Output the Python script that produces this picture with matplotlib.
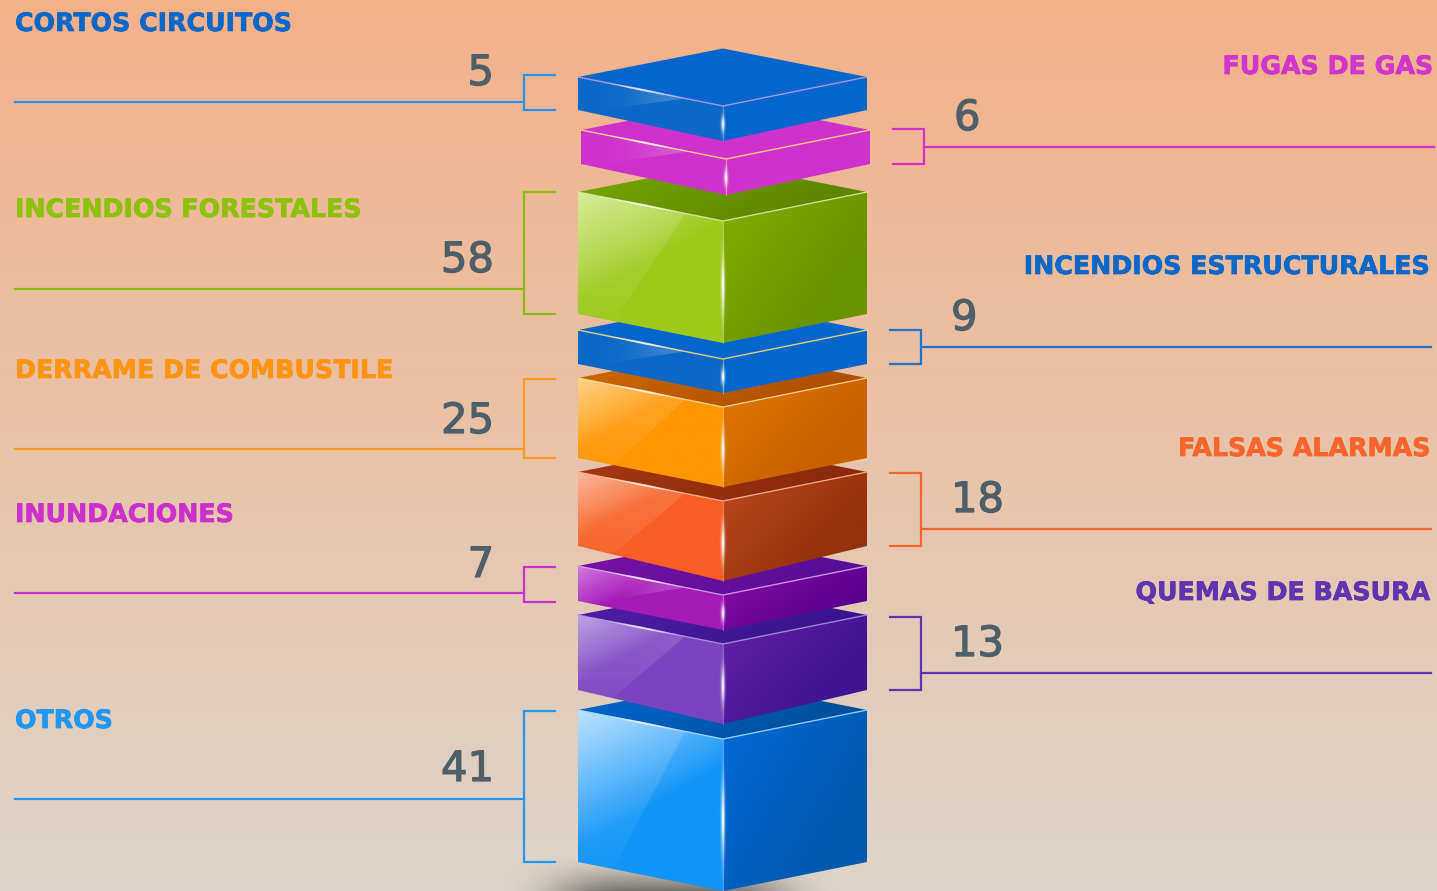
import matplotlib
matplotlib.use('Agg')
import matplotlib.pyplot as plt
import matplotlib.patheffects as pe
import numpy as np
from matplotlib.collections import LineCollection
from matplotlib.colors import to_rgb
from matplotlib.patches import Polygon

categories = ['CORTOS CIRCUITOS', 'FUGAS DE GAS', 'INCENDIOS FORESTALES', 'INCENDIOS ESTRUCTURALES',
              'DERRAME DE COMBUSTILE', 'FALSAS ALARMAS', 'INUNDACIONES', 'QUEMAS DE BASURA', 'OTROS']
values = [5, 6, 58, 9, 25, 18, 7, 13, 41]

# layout, in image pixels
block_top = [77, 130, 192, 330, 378, 472, 566, 615, 710]
block_bot = [110, 164, 314, 364, 458, 546, 601, 690, 862]
front_bot = [141, 195, 343, 393, 487, 581, 630, 724, 891]
block_x0 = [578, 581, 578, 578, 578, 578, 578, 578, 578]
sides = ['l', 'r', 'l', 'r', 'l', 'r', 'l', 'r', 'l']
leader_y = [102, 147, 289, 347, 449, 529, 593, 673, 799]
label_y = [24, 67, 210, 267, 371, 449, 515, 593, 721]
value_y = [73, 118, 260, 318, 421, 500, 565, 644, 769]
bracket_top = [75, 129, 192, 330, 379, 473, 567, 617, 711]
bracket_bot = [110, 164, 314, 364, 458, 546, 602, 690, 862]

# styles
label_colors = ['#0b68c8', '#d035cc', '#8cc10c', '#0b68c8', '#ff9412', '#f9632c', '#cc30cc', '#5e35ae', '#2196f3']
line_colors = ['#2196f3', '#cf32cc', '#8bbd0f', '#1c74d4', '#ff9a1e', '#f9632c', '#cc30cc', '#5e35ae', '#2196f3']
left_colors = ['#0a68c8', '#cf32cc', '#9dc91b', '#0a68c8', '#ff9500', '#f75e24', '#a61bb7', '#7a44c0', '#1295f7']
left_light = ['#0a68c8', '#cf32cc', '#d2e88a', '#0a68c8', '#ffcc70', '#fcaa88', '#d07ae0', '#b090e0', '#b0dcff']
right_a = ['#0366cc', '#cf32cc', '#82ad00', '#0366cc', '#e07800', '#bb4a1f', '#8a0fa8', '#6220a8', '#026bd8']
right_b = ['#0366cc', '#cf32cc', '#6a9300', '#0366cc', '#c86000', '#97300c', '#5c0092', '#3f1595', '#0059b0']
top_a = ['#0366cc', '#cf32cc', '#7aa800', '#0366cc', '#d06a00', '#a83a14', '#7a12a8', '#5020a8', '#0068d2']
top_b = ['#0366cc', '#cf32cc', '#5f8500', '#0366cc', '#b05000', '#8a2a0c', '#5a0e98', '#3a1490', '#00509e']
edge_colors = ['#b9a0e8', '#ffe070', '#d8eda0', '#ffe070', '#ffd890', '#ffb090', '#d9a0f0', '#b090e0', '#a0d8ff']

W, H = 1437, 891
fig = plt.figure(figsize=(W / 100, H / 100), dpi=100)
ax = fig.add_axes([0, 0, 1, 1])


def blend(a, b, t):
    a, b = np.array(to_rgb(a)), np.array(to_rgb(b))
    return a + (b - a) * t[..., None]


def grad_poly(verts, c1, c2, angle, z):
    xs, ys = zip(*verts)
    x0, x1, y0, y1 = min(xs), max(xs), min(ys), max(ys)
    gx, gy = np.meshgrid(np.linspace(0, 1, 80), np.linspace(0, 1, 80))
    t = np.clip(np.cos(angle) * gx + np.sin(angle) * gy, 0, 1)
    im = ax.imshow(blend(c1, c2, t), extent=(x0, x1, y1, y0), aspect='auto', zorder=z, interpolation='bilinear')
    im.set_clip_path(Polygon(verts, transform=ax.transData))


def glow_line(x0, y0, x1, y1, z):
    # highlight on the edge, white around one spot
    n = 160
    px = np.linspace(x0, x1, n)
    py = np.linspace(y0, y1, n)
    segs = np.stack([np.c_[px[:-1], py[:-1]], np.c_[px[1:], py[1:]]], axis=1)
    s = np.linspace(0, 1, n - 1)
    bump = np.exp(-((s - 0.45) / 0.2) ** 2)
    cols = np.c_[np.tile(to_rgb('white'), (n - 1, 1)), bump * 0.8]
    ax.add_collection(LineCollection(segs, colors=cols, linewidths=0.5 + 1.0 * bump, capstyle='butt', zorder=z))


def spindle(x, y0, y1, color, z):
    gx, gy = np.meshgrid(np.linspace(-1, 1, 21), np.linspace(-1, 1, 120))
    img = np.zeros(gx.shape + (4,))
    img[..., :3] = to_rgb(color)
    img[..., 3] = np.exp(-(gx / 0.38) ** 2) * np.exp(-(gy / 0.5) ** 2)
    ax.imshow(img, extent=(x - 5, x + 5, y1, y0), aspect='auto', zorder=z, interpolation='bilinear')


def draw_block(i, z):
    x0, top, bot, fb = block_x0[i], block_top[i], block_bot[i], front_bot[i]
    xc, x1 = x0 + 145, x0 + 289
    up, down = 28.5, 29
    h = bot - top
    left = [(x0, top), (xc, top + down), (xc, fb), (x0, bot)]
    right = [(xc, top + down), (x1, top), (x1, bot), (xc, fb)]
    cap = [(x0, top), (xc, top - up), (x1, top), (xc, top + down)]
    grad_poly(cap, top_a[i], top_b[i], 0.3, z)
    grad_poly(right, right_a[i], right_b[i], 0.6, z)
    # left face goes from the pale corner into the base colour
    gx, gy = np.meshgrid(np.linspace(0, 1, 90), np.linspace(0, 1, 90))
    size = max(h, 60)
    t = np.clip((gx * 145 * 0.55 + gy * (fb - top)) / (size * 0.9), 0, 1)
    im = ax.imshow(blend(left_light[i], left_colors[i], t), extent=(x0, xc, fb, top),
                   aspect='auto', zorder=z, interpolation='bilinear')
    im.set_clip_path(Polygon(left, transform=ax.transData))
    # gloss wedge, fades towards the bottom
    gloss = [(x0, top), (x0 + 107, top + 21.5), (x0 + 35, bot + 8), (x0, bot)]
    if h < 50:
        gloss = [(x0, top), (x0 + 107, top + 21.5), (x0 + 35, top + h * 0.95), (x0, bot)]
    img = np.zeros(gx.shape + (4,))
    img[..., :3] = 1
    if h < 50:
        img[..., 3] = 0.2 * np.exp(-((gx - 0.72) / 0.32) ** 2)
    else:
        img[..., 3] = 0.16 * (1 - gy) ** 0.8
    g = ax.imshow(img, extent=(x0, xc, fb, top), aspect='auto', zorder=z + 0.1, interpolation='bilinear')
    g.set_clip_path(Polygon(gloss, transform=ax.transData))
    ax.plot([x0, xc, x1], [top, top + down, top], color=edge_colors[i], lw=1.0, alpha=0.85, zorder=z + 0.2)
    glow_line(x0, top, xc, top + down, z + 0.25)
    ax.plot([xc, xc], [top + down, fb], color=edge_colors[i], lw=0.8, alpha=0.5, zorder=z + 0.2)
    spindle(xc, top + down + h * 0.05, fb, 'white', z + 0.3)


# background
bg_y = np.linspace(0, 1, 256)
ax.imshow(blend('#f3b189', '#ddd5cb', bg_y)[:, None, :], extent=(0, W, H, 0), aspect='auto', zorder=0)

# soft shadow under the stack
sx, sy = np.meshgrid(np.linspace(-1, 1, 300), np.linspace(0, 1, 60))
shadow = np.zeros(sx.shape + (4,))
shadow[..., :3] = 0.2
shadow[..., 3] = 0.6 * np.exp(-((sx + 0.05) / 0.55) ** 4) * sy ** 1.4
ax.imshow(shadow, extent=(470, 890, 891, 855), aspect='auto', zorder=1, interpolation='bilinear')

# blocks, lower ones first so the upper ones sit on them
for i in range(len(values) - 1, -1, -1):
    draw_block(i, 2 + (len(values) - i))

# brackets, leaders and texts
for i, cat in enumerate(categories):
    c = line_colors[i]
    if sides[i] == 'l':
        bx, tip, end = 524, 555, 15
        lx, ha, vx = 15, 'left', 494
    else:
        dx = block_x0[i] - 578
        bx, tip, end = 921 + dx, 890 + dx, 1431 + dx
        lx, ha, vx = 1431 + dx - 1, 'right', 951 + dx
    ax.plot([tip, bx, bx, tip], [bracket_top[i], bracket_top[i], bracket_bot[i], bracket_bot[i]],
            color=c, lw=1.6, solid_joinstyle='miter', zorder=20)
    ax.plot([end, bx], [leader_y[i], leader_y[i]], color=c, lw=1.6, zorder=20)
    lab = ax.text(lx, label_y[i], cat, color=label_colors[i], ha=ha, va='center', fontsize=18.2,
                  fontweight='bold', family='DejaVu Sans', zorder=21)
    lab.set_path_effects([pe.withStroke(linewidth=0.5, foreground=label_colors[i])])
    t = ax.text(vx, value_y[i], str(values[i]), color='#4f5f68', ha='right' if sides[i] == 'l' else 'left',
                va='center', fontsize=30, family='DejaVu Sans', zorder=21)
    t.set_path_effects([pe.withStroke(linewidth=0.9, foreground='#4f5f68')])

ax.set_xlim(0, W)
ax.set_ylim(H, 0)
ax.axis('off')
fig.savefig('out.png', dpi=100)
